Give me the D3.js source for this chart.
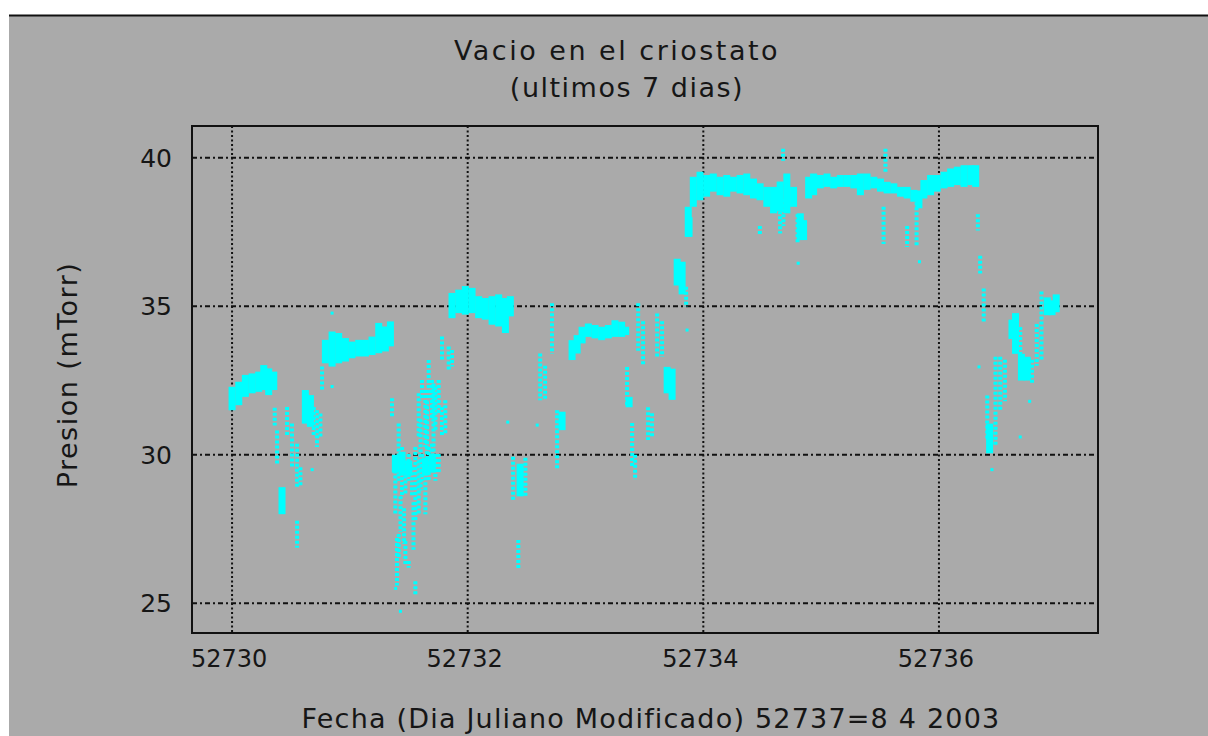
<!DOCTYPE html>
<html>
<head>
<meta charset="utf-8" />
<style>
	body { margin: 0; background: #ffffff; }
	svg { display: block; }
	text { font-family: "DejaVu Sans", sans-serif; fill: #161616; }
</style>
<title>Vacio en el criostato</title>
</head>
<body>
<script src="https://cdn.jsdelivr.net/npm/d3@7"></script>
<script>
	// ticks
	var xTicks = [52730, 52732, 52734, 52736];
	var yTicks = [25, 30, 35, 40];

	// dense parts of the cloud: day, lowest and highest pressure (mTorr)
	var bandDia = [52730.000, 52730.057, 52730.113, 52730.170, 52730.226, 52730.269, 52730.311, 52730.354,
		52730.424, 52730.622, 52730.665,
		52730.792, 52730.849, 52730.905, 52730.962, 52731.018, 52731.075, 52731.132, 52731.188, 52731.245, 52731.301, 52731.344,
		52731.386, 52731.443, 52731.500, 52731.640, 52731.700,
		52731.867, 52731.924, 52731.980, 52732.037, 52732.093, 52732.150, 52732.207, 52732.263, 52732.320, 52732.362,
		52732.445, 52732.801,
		52732.886, 52732.929, 52732.971, 52733.024, 52733.081, 52733.137, 52733.194, 52733.250, 52733.307, 52733.341,
		52733.370, 52733.693, 52733.735, 52733.778, 52733.820, 52733.879,
		52733.872, 52733.915, 52733.972, 52734.028, 52734.085, 52734.142, 52734.199, 52734.255, 52734.312, 52734.369,
		52734.426, 52734.482, 52734.539, 52734.596, 52734.652, 52734.709, 52734.766, 52734.823, 52734.851, 52734.894,
		52734.936, 52734.993, 52735.050, 52735.106, 52735.163, 52735.220, 52735.277, 52735.333, 52735.390, 52735.447,
		52735.504, 52735.560, 52735.617, 52735.674, 52735.730, 52735.787, 52735.830, 52735.872, 52735.929, 52735.986,
		52736.043, 52736.099, 52736.156, 52736.213, 52736.270, 52736.312,
		52736.430, 52736.620, 52736.650, 52736.700, 52736.750, 52736.920, 52736.960, 52736.995];
	var bandMin = [31.50, 31.67, 31.95, 32.07, 32.12, 32.18, 32.01, 32.18,
		28.00, 31.05, 30.94,
		33.08, 32.97, 33.08, 33.14, 33.25, 33.31, 33.31, 33.36, 33.42, 33.48, 33.65,
		29.40, 29.30, 29.30, 29.30, 29.40,
		34.60, 34.77, 34.72, 34.77, 34.60, 34.55, 34.38, 34.32, 34.10, 34.66,
		28.60, 30.83,
		33.19, 33.41, 33.75, 33.97, 33.92, 33.86, 33.92, 33.97, 33.97, 34.03,
		31.60, 32.07, 31.85, 35.70, 35.40, 37.34,
		37.34, 38.35, 38.57, 38.69, 38.86, 38.74, 38.69, 38.86, 38.80, 38.74,
		38.63, 38.57, 38.35, 38.13, 38.20, 38.13, 38.35, 37.23, 37.23, 38.63,
		38.74, 38.97, 39.02, 38.97, 39.02, 39.02, 38.97, 38.74, 38.92, 38.97,
		38.86, 38.80, 38.80, 38.69, 38.63, 38.52, 38.30, 38.63, 38.74, 38.86,
		38.97, 39.02, 39.08, 39.02, 39.08, 39.02,
		30.05, 33.90, 33.40, 32.50, 32.50, 34.70, 34.70, 34.80];
	var bandMax = [32.29, 32.46, 32.69, 32.74, 32.80, 33.02, 32.91, 32.80,
		28.91, 32.18, 32.01,
		33.87, 34.15, 34.10, 33.93, 33.81, 33.87, 33.87, 33.98, 34.44, 34.32, 34.49,
		30.00, 30.10, 29.80, 29.90, 30.00,
		35.45, 35.56, 35.68, 35.62, 35.34, 35.28, 35.34, 35.40, 35.28, 35.34,
		29.70, 31.45,
		33.86, 34.03, 34.31, 34.42, 34.37, 34.31, 34.37, 34.53, 34.48, 34.31,
		31.95, 32.96, 32.90, 36.60, 36.50, 38.00,
		38.35, 39.36, 39.53, 39.42, 39.47, 39.36, 39.42, 39.36, 39.42, 39.47,
		39.30, 39.14, 39.02, 39.02, 39.20, 39.47, 39.02, 38.13, 37.90, 39.36,
		39.47, 39.42, 39.47, 39.36, 39.42, 39.42, 39.42, 39.47, 39.47, 39.36,
		39.30, 39.19, 39.14, 39.02, 39.02, 38.92, 38.90, 39.25, 39.42, 39.42,
		39.53, 39.64, 39.70, 39.75, 39.75, 39.75,
		31.05, 34.55, 34.77, 33.40, 33.30, 35.30, 35.20, 35.40];

	// sparse columns of readings
	var dispDia = [52730.362, 52730.382, 52730.467, 52730.509, 52730.552, 52730.552, 52730.580, 52730.693, 52730.721, 52730.750, 52730.764,
		52731.358, 52731.386, 52731.414, 52731.414, 52731.443, 52731.471, 52731.471, 52731.499, 52731.499, 52731.528,
		52731.556, 52731.556, 52731.584, 52731.584, 52731.612, 52731.612, 52731.641, 52731.641, 52731.669, 52731.669,
		52731.697, 52731.697, 52731.726, 52731.726, 52731.754, 52731.754, 52731.782, 52731.782, 52731.810, 52731.839, 52731.867,
		52731.400, 52731.430, 52731.460, 52731.540, 52731.600, 52731.655, 52731.710,
		52732.385, 52732.490, 52732.430, 52732.615, 52732.657, 52732.716, 52732.759,
		52733.353, 52733.396, 52733.421, 52733.447, 52733.489, 52733.531, 52733.565, 52733.608, 52733.650, 52733.854,
		52734.652, 52734.677, 52734.680, 52734.800, 52734.480, 52735.530, 52735.546, 52735.730, 52735.810,
		52736.330, 52736.350, 52736.380,
		52736.410, 52736.480, 52736.520, 52736.560, 52736.690, 52736.790, 52736.830, 52736.870];
	var dispMin = [30.99, 29.64, 30.60, 29.58, 28.91, 26.87, 28.91, 30.60, 30.26, 30.60, 32.18,
		31.28, 28.00, 29.13, 26.54, 28.57, 28.68, 26.31, 29.13, 26.20, 28.57,
		27.78, 25.29, 30.60, 28.00, 31.84, 29.13, 30.26, 28.00, 31.84, 29.13,
		31.16, 29.58, 30.82, 29.13, 31.39, 29.36, 30.60, 33.19, 30.71, 32.86, 32.97,
		25.60, 27.40, 27.00, 26.80, 28.80, 29.40, 29.80,
		28.48, 28.60, 26.12, 31.84, 31.84, 33.40, 29.50,
		31.62, 29.60, 29.15, 33.50, 33.00, 30.50, 30.60, 33.30, 33.30, 34.98,
		37.45, 39.90, 37.70, 37.10, 37.40, 37.10, 39.50, 37.00, 37.00,
		37.55, 36.10, 34.45,
		30.50, 30.30, 31.50, 31.80, 33.00, 32.40, 33.00, 33.20];
	var dispMax = [31.58, 30.82, 31.61, 31.05, 30.37, 27.78, 29.58, 31.61, 31.50, 31.39, 32.97,
		31.90, 29.81, 31.05, 27.33, 30.26, 29.81, 27.10, 30.03, 26.42, 29.58,
		30.26, 25.74, 32.07, 29.81, 32.52, 30.03, 32.18, 29.58, 33.19, 30.26,
		32.52, 30.37, 32.29, 30.03, 32.52, 30.03, 31.61, 33.98, 31.84, 33.65, 33.53,
		27.20, 28.60, 28.20, 28.40, 31.20, 31.80, 32.40,
		29.93, 29.90, 27.13, 33.41, 33.00, 35.10, 31.50,
		32.96, 31.07, 30.00, 35.10, 34.50, 31.60, 31.40, 34.76, 34.50, 35.66,
		38.20, 40.30, 38.60, 38.10, 37.70, 38.35, 40.30, 37.70, 38.50,
		38.10, 36.70, 35.60,
		32.00, 33.30, 33.30, 33.20, 34.30, 33.20, 34.40, 35.50];

	// isolated readings
	var ptDia = [52730.849, 52730.849, 52730.680, 52731.429, 52731.389, 52732.340, 52732.590, 52733.862,
		52734.805, 52735.835, 52736.340, 52736.450, 52736.770, 52736.690];
	var ptP = [34.77, 32.30, 29.50, 24.73, 25.50, 31.10, 31.00, 34.20,
		36.45, 36.50, 32.96, 29.50, 31.80, 30.60];

	var W = 1208, H = 736;
	var margin = { left: 192, top: 126, right: 1098, bottom: 633 };

	var svg = d3.select("body").append("svg").attr("width", W).attr("height", H);

	// grey page with its black top rule
	svg.append("rect").attr("x", 9).attr("y", 16).attr("width", W - 9).attr("height", H - 16).attr("fill", "#aaaaaa");
	svg.append("line").attr("x1", 9).attr("x2", W).attr("y1", 15.5).attr("y2", 15.5)
		.attr("stroke", "#111").attr("stroke-width", 2);

	var x = d3.scaleLinear().domain([52729.66, 52737.35]).range([margin.left, margin.right]);
	var y = d3.scaleLinear().domain([24.0, 41.07]).range([margin.bottom, margin.top]);

	// grid
	svg.append("g").selectAll("line").data(yTicks).join("line")
		.attr("x1", margin.left).attr("x2", margin.right)
		.attr("y1", d => y(d)).attr("y2", d => y(d))
		.attr("stroke", "#111").attr("stroke-width", 2).attr("stroke-dasharray", "5,3,2,3");
	svg.append("g").selectAll("line").data(xTicks).join("line")
		.attr("x1", d => x(d)).attr("x2", d => x(d))
		.attr("y1", margin.top).attr("y2", margin.bottom)
		.attr("stroke", "#111").attr("stroke-width", 2).attr("stroke-dasharray", "2,2.5");

	// data
	var band = d3.range(bandDia.length).map(i => ({ t: bandDia[i], lo: bandMin[i], hi: bandMax[i] }));
	var disp = d3.range(dispDia.length).map(i => ({ t: dispDia[i], lo: dispMin[i], hi: dispMax[i] }));
	var pts = d3.range(ptDia.length).map(i => ({ t: ptDia[i], p: ptP[i] }));

	var cyan = "#00ffff";
	svg.append("g").selectAll("rect").data(band).join("rect")
		.attr("x", d => x(d.t) - 3.5).attr("width", 7)
		.attr("y", d => y(d.hi)).attr("height", d => y(d.lo) - y(d.hi))
		.attr("fill", cyan);
	svg.append("g").selectAll("line").data(disp).join("line")
		.attr("x1", d => x(d.t)).attr("x2", d => x(d.t))
		.attr("y1", d => y(d.hi)).attr("y2", d => y(d.lo))
		.attr("stroke", cyan).attr("stroke-width", 4).attr("stroke-dasharray", "3,2");
	svg.append("g").selectAll("rect").data(pts).join("rect")
		.attr("x", d => x(d.t) - 1.5).attr("y", d => y(d.p) - 1.5)
		.attr("width", 3).attr("height", 3).attr("fill", cyan);

	// frame
	svg.append("rect").attr("x", margin.left).attr("y", margin.top)
		.attr("width", margin.right - margin.left).attr("height", margin.bottom - margin.top)
		.attr("fill", "none").attr("stroke", "#111").attr("stroke-width", 2);

	// tick labels
	svg.append("g").selectAll("text").data(yTicks).join("text")
		.attr("x", 172).attr("y", d => y(d) + 9)
		.attr("text-anchor", "end").attr("font-size", 25).text(d => d);
	svg.append("g").selectAll("text").data(xTicks).join("text")
		.attr("x", d => x(d) - 3).attr("y", 667)
		.attr("text-anchor", "middle").attr("font-size", 24).text(d => d);

	// titles
	svg.append("text").attr("x", 617).attr("y", 60).attr("text-anchor", "middle")
		.attr("font-size", 27).attr("letter-spacing", 2.5).text("Vacio en el criostato");
	svg.append("text").attr("x", 627).attr("y", 97).attr("text-anchor", "middle")
		.attr("font-size", 27).attr("letter-spacing", 1.5).text("(ultimos 7 dias)");
	svg.append("text").attr("x", 651).attr("y", 728).attr("text-anchor", "middle")
		.attr("font-size", 27).attr("letter-spacing", 1.2).text("Fecha (Dia Juliano Modificado) 52737=8 4 2003");
	svg.append("text").attr("transform", "translate(77,375) rotate(-90)").attr("text-anchor", "middle")
		.attr("font-size", 27).attr("letter-spacing", 1.5).text("Presion (mTorr)");
</script>
</body>
</html>
